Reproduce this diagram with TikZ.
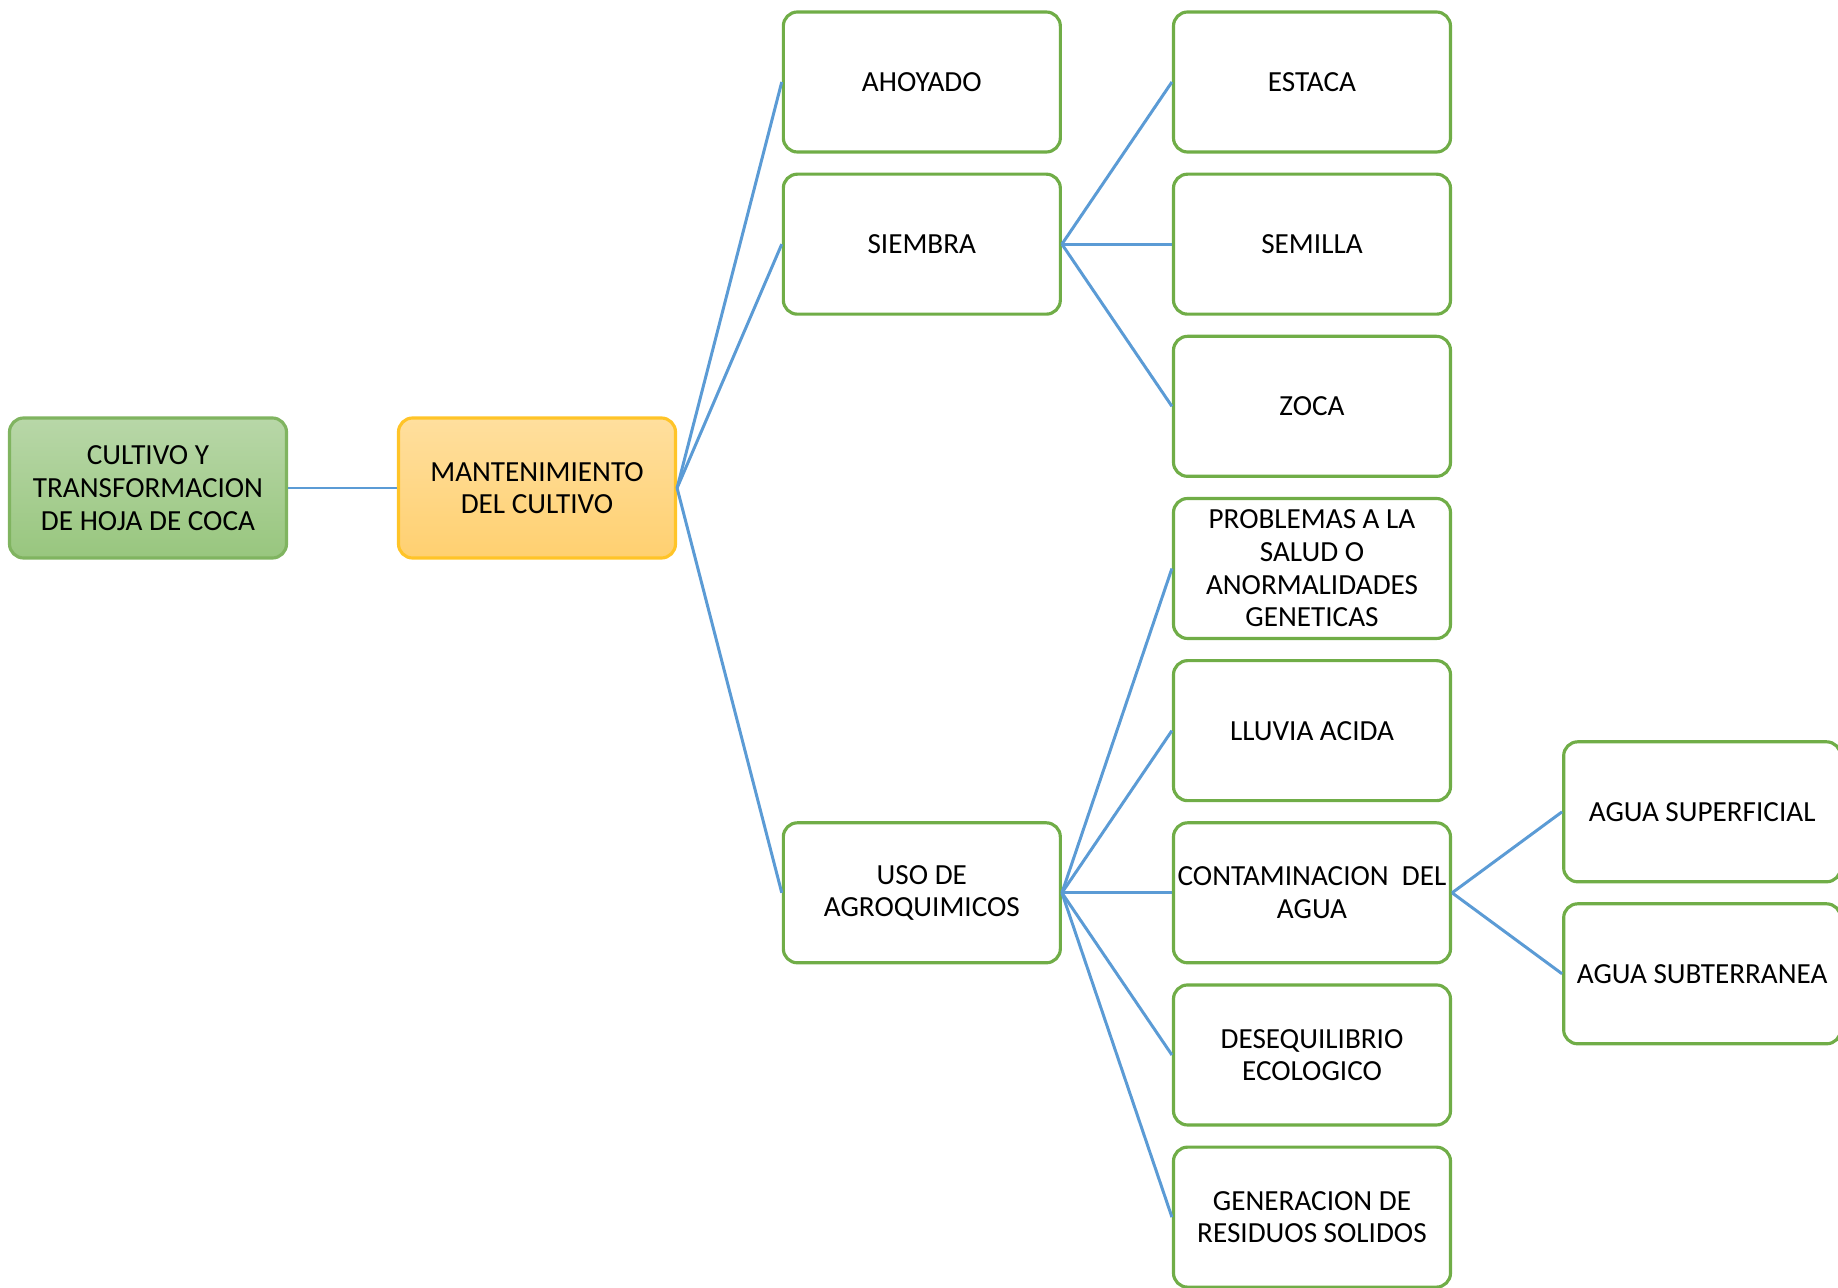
\documentclass[tikz,border=0pt]{standalone}
\usepackage{fontspec}
\setmainfont{Carlito}
\usepackage{xcolor}
\usepackage{tikz}
\usetikzlibrary{positioning}

\definecolor{boxgreen}{RGB}{112,173,71}
\definecolor{linkblue}{RGB}{91,155,213}
\definecolor{roottop}{RGB}{184,215,168}
\definecolor{rootbot}{RGB}{152,198,126}
\definecolor{rootline}{RGB}{128,180,96}
\definecolor{manttop}{RGB}{255,223,158}
\definecolor{mantbot}{RGB}{255,208,112}
\definecolor{mantline}{RGB}{255,196,40}

\begin{document}
\begin{tikzpicture}[
  font=\fontsize{8.3}{9.3}\selectfont,
  base/.style={line width=0.9pt, rounded corners=4pt, align=center, minimum width=2.77cm, minimum height=1.40cm, inner sep=1pt},
  box/.style={base, draw=boxgreen, fill=white},
  link/.style={draw=linkblue, line width=0.85pt}
]
\useasboundingbox (0,0) rectangle (18.38,-12.88);
\node[base, draw=rootline, top color=roottop, bottom color=rootbot] (cultivo) at (1.48,-4.88) {CULTIVO Y\\TRANSFORMACION\\DE HOJA DE COCA};
\node[base, draw=mantline, top color=manttop, bottom color=mantbot] (mant) at (5.37,-4.88) {MANTENIMIENTO\\DEL CULTIVO};
\node[box] (estaca) at (13.12,-0.82) {ESTACA};
\node[box, below=0.19cm of estaca] (semilla) {SEMILLA};
\node[box, below=0.19cm of semilla] (zoca) {ZOCA};
\node[box, below=0.19cm of zoca] (salud) {PROBLEMAS A LA\\SALUD O\\ANORMALIDADES\\GENETICAS};
\node[box, below=0.19cm of salud] (lluvia) {LLUVIA ACIDA};
\node[box, below=0.19cm of lluvia] (contam) {CONTAMINACION\ \ DEL\\AGUA};
\node[box, below=0.19cm of contam] (deseq) {DESEQUILIBRIO\\ECOLOGICO};
\node[box, below=0.19cm of deseq] (residuos) {GENERACION DE\\RESIDUOS SOLIDOS};
\node[box, left=1.1cm of estaca] (ahoyado) {AHOYADO};
\node[box, left=1.1cm of semilla] (siembra) {SIEMBRA};
\node[box, left=1.1cm of contam] (uso) {USO DE\\AGROQUIMICOS};
\node[box, right=1.1cm of contam, yshift=0.81cm] (superf) {AGUA SUPERFICIAL};
\node[box, right=1.1cm of contam, yshift=-0.81cm] (subter) {AGUA SUBTERRANEA};
% conectores
\draw[link] (cultivo.east) -- (mant.west);
\draw[link] (mant.east) -- (ahoyado.west);
\draw[link] (mant.east) -- (siembra.west);
\draw[link] (mant.east) -- (uso.west);
\draw[link] (siembra.east) -- (estaca.west);
\draw[link] (siembra.east) -- (semilla.west);
\draw[link] (siembra.east) -- (zoca.west);
\draw[link] (uso.east) -- (salud.west);
\draw[link] (uso.east) -- (lluvia.west);
\draw[link] (uso.east) -- (contam.west);
\draw[link] (uso.east) -- (deseq.west);
\draw[link] (uso.east) -- (residuos.west);
\draw[link] (contam.east) -- (superf.west);
\draw[link] (contam.east) -- (subter.west);
\end{tikzpicture}
\end{document}
